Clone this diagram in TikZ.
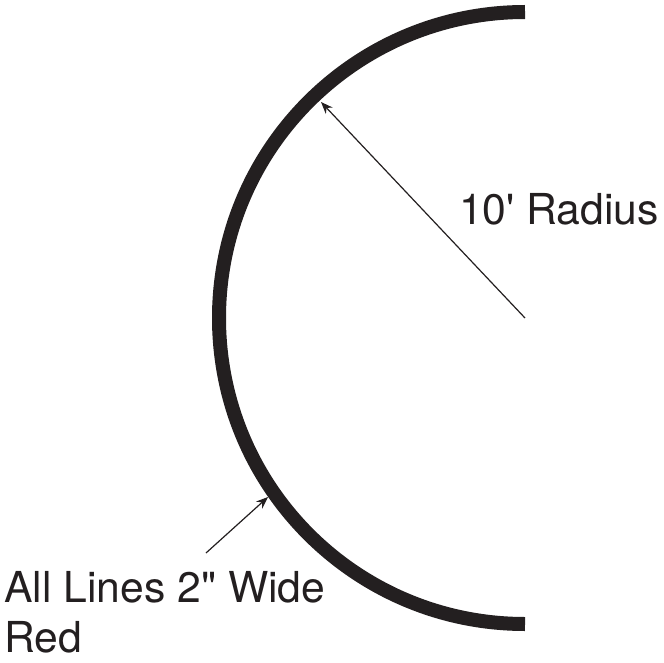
\documentclass[tikz,border=0pt]{standalone}
\usepackage{fontspec}
\newfontfamily\labelfont{TeX Gyre Heros}
\usepackage{tikz}
\usetikzlibrary{arrows.meta,positioning}
\definecolor{inkdark}{RGB}{35,31,32}

\begin{document}
\begin{tikzpicture}[>={Stealth[length=9pt,width=7pt]},x=0.75pt,y=0.75pt,
  ring/.style={line width=10.5pt,inkdark},
  pointer/.style={->,line width=0.9pt,inkdark},
  label/.style={inner sep=0pt,text=inkdark,font=\labelfont\fontsize{32}{37.5}\selectfont}]
\useasboundingbox (0,0) rectangle (664,662);
% half ring, centre at (525,344)
\coordinate (ctr) at (525,344);
\draw[ring] (525,650) arc[start angle=90,end angle=270,radius=306];
\coordinate (radtip) at (321,560);
\coordinate (widefoot) at (206,109);
\coordinate (widetip) at (268,165);
\draw[pointer] (ctr)--(radtip);
\draw[pointer] (widefoot)--(widetip);
\node[label,anchor=base west] (radius) at (459,438) {10' Radius};
% base of a two-line node is its last line
\node[label,anchor=base west,align=left] (wide) at (4,10) {All Lines 2" Wide\\Red};
\end{tikzpicture}
\end{document}
